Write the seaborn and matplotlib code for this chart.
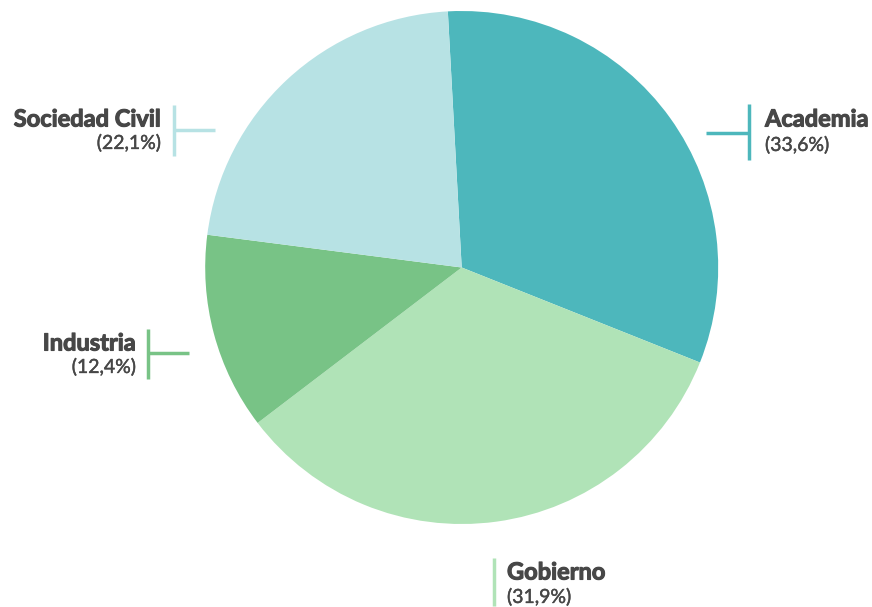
import matplotlib
matplotlib.use("Agg")
import matplotlib.pyplot as plt
import matplotlib.patheffects as pe
import seaborn as sns

# Data
categories = ["Academia", "Gobierno", "Industria", "Sociedad Civil"]
slice_values = [31.9, 33.6, 12.4, 22.1]          # slice shares as drawn
label_pcts = ["(33,6%)", "(31,9%)", "(12,4%)", "(22,1%)"]  # printed labels
colors = ["#4db7bc", "#b0e3b7", "#78c386", "#b7e2e4"]

sns.set_theme(style="white")
plt.rcParams['font.family'] = ['Lato', 'DejaVu Sans']

W, H = 872, 607
fig = plt.figure(figsize=(W / 100, H / 100), dpi=100)
ax = fig.add_axes([0, 0, 1, 1])

def Y(y):
    return H - y

ax.pie(slice_values, colors=colors, startangle=93.1, counterclock=False,
       center=(461.7, Y(267.5)), radius=256.5,
       wedgeprops=dict(linewidth=0), frame=True)
ax.set_xlim(0, W)
ax.set_ylim(0, H)
ax.set_aspect("equal")
ax.axis("off")

txt = "#474747"
# label specs: (name_x, name_y, pct_y, ha, vline_x, vline_y0, vline_y1, hline)
specs = [
    (765, 119, 145, "left", 749, 104, 160, (706, 749, 133)),
    (507, 572, 597, "left", 494, 558, 606, None),
    (136, 343, 367, "right", 148, 329, 379, (148, 189, 353)),
    (161, 119, 143, "right", 174, 105, 156, (174, 215, 130)),
]
for i, (nx, ny, py, ha, vx, vy0, vy1, hl) in enumerate(specs):
    c = colors[i]
    ax.plot([vx, vx], [Y(vy0), Y(vy1)], color=c, lw=2.5, solid_capstyle="butt")
    if hl:
        ax.plot([hl[0], hl[1]], [Y(hl[2]), Y(hl[2])], color=c, lw=2.5, solid_capstyle="butt")
    ax.text(nx, Y(ny), categories[i], ha=ha, va="center", fontsize=17,
            fontweight="bold", color=txt,
            path_effects=[pe.withStroke(linewidth=0.8, foreground=txt)])
    ax.text(nx, Y(py), label_pcts[i], ha=ha, va="center", fontsize=14,
            color=txt,
            path_effects=[pe.withStroke(linewidth=0.3, foreground=txt)])

fig.savefig("out.png", dpi=100)
